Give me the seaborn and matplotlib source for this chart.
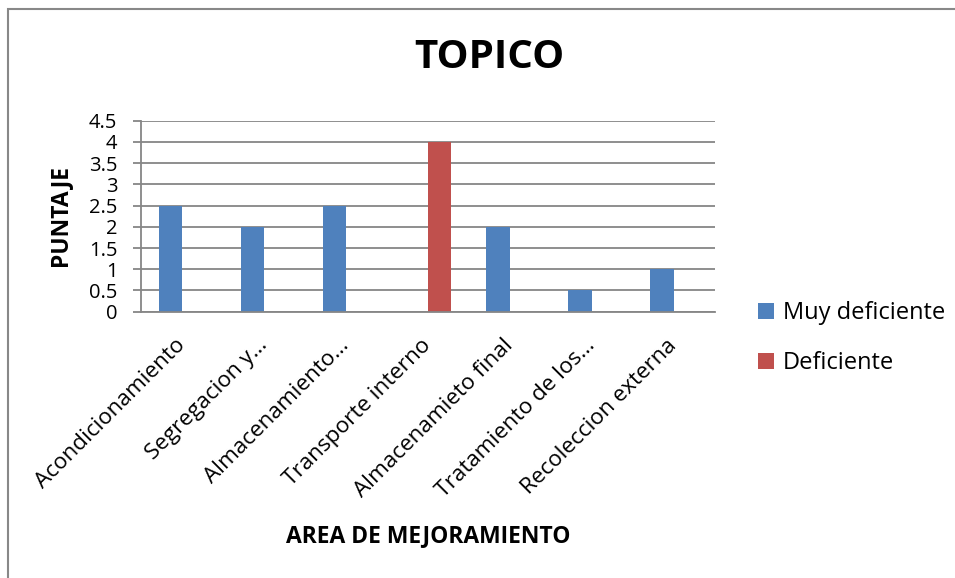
import numpy as np
import pandas as pd
import matplotlib
matplotlib.use("Agg")
import matplotlib.pyplot as plt
from matplotlib.patches import Rectangle, Patch
import seaborn as sns

categories = ["Acondicionamiento", "Segregacion y…", "Almacenamiento…",
              "Transporte interno", "Almacenamieto final", "Tratamiento de los…",
              "Recoleccion externa"]
series_names = ["Muy deficiente", "Deficiente"]
muy_deficiente = [2.5, 2.0, 2.5, None, 2.0, 0.5, 1.0]
deficiente = [None, None, None, 4.0, None, None, None]
y_ticks = [0, 0.5, 1, 1.5, 2, 2.5, 3, 3.5, 4, 4.5]
y_tick_labels = ["0", "0.5", "1", "1.5", "2", "2.5", "3", "3.5", "4", "4.5"]

rows = []
for c, v in zip(categories, muy_deficiente):
    if v is not None:
        rows.append({"cat": c, "serie": series_names[0], "val": v})
for c, v in zip(categories, deficiente):
    if v is not None:
        rows.append({"cat": c, "serie": series_names[1], "val": v})
df = pd.DataFrame(rows)

sns.set_theme(style="white")
plt.rcParams["font.family"] = ["Open Sans", "DejaVu Sans"]
for k in ["text.color", "axes.labelcolor", "xtick.color", "ytick.color"]:
    plt.rcParams[k] = "black"

W, H = 955, 578
fig = plt.figure(figsize=(W / 100, H / 100), dpi=100)
ax = fig.add_axes([141 / W, 1 - 311.7 / H, (714.7 - 141) / W, (311.7 - 120.7) / H])

colors = {"Muy deficiente": "#4F81BD", "Deficiente": "#C0504D"}
sns.barplot(data=df, x="cat", y="val", hue="serie", order=categories,
            hue_order=series_names, palette=colors, width=0.57, dodge=True,
            saturation=1, ax=ax, legend=False, errorbar=None, linewidth=0)

ax.set_xlim(-0.5, len(categories) - 0.5)
ax.set_ylim(0, 4.5)
ax.set_yticks(y_ticks)
ax.set_yticklabels(y_tick_labels, fontsize=14.5)
ax.yaxis.grid(True, color="#868686", linewidth=1.3)
ax.set_axisbelow(True)
for s in ["top", "right"]:
    ax.spines[s].set_visible(False)
for s in ["left", "bottom"]:
    ax.spines[s].set_color("#868686")
    ax.spines[s].set_linewidth(1.3)
ax.tick_params(axis="y", which="major", left=True, length=6, width=1.3,
               color="#868686", pad=11, labelsize=14.5, labelcolor="black")
ax.tick_params(axis="x", bottom=False, pad=16)

ax.set_xticks(range(len(categories)))
ax.set_xticklabels(categories, rotation=45, ha="right", va="center",
                   rotation_mode="anchor", fontsize=16.2)

ax.set_xlabel("")
ax.set_ylabel("")
fig.text(60 / W, 1 - 215 / H, "PUNTAJE", rotation=90, ha="center", va="center",
         fontsize=16.5, fontweight="bold")
fig.text(428 / W, 1 - 536 / H, "AREA DE MEJORAMIENTO", ha="center", va="center",
         fontsize=16.5, fontweight="bold")
fig.text(489 / W, 1 - 58 / H, "TOPICO", ha="center", va="center",
         fontsize=29, fontweight="bold")

handles = [Patch(facecolor=colors[n], edgecolor="none") for n in series_names]
fig.legend(handles, series_names, loc="center left",
           bbox_to_anchor=(737 / W, 1 - 338 / H), frameon=False, fontsize=17,
           handlelength=0.65, handleheight=0.65, handletextpad=0.4,
           labelspacing=1.1)

fig.patches.append(Rectangle((8 / W, -0.1), 1.2, 1.1 - 9 / H, fill=False,
                             edgecolor="#888888", linewidth=1.5,
                             transform=fig.transFigure, figure=fig))

fig.savefig("out.png", dpi=100)
